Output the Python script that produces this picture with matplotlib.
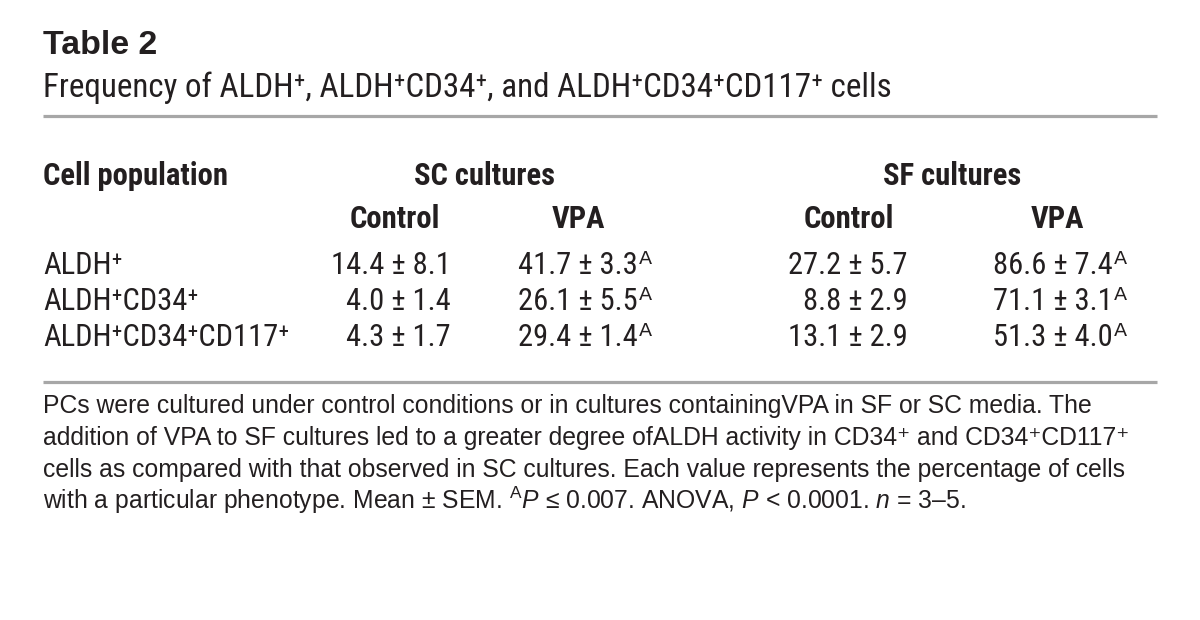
import matplotlib
matplotlib.use("Agg")
import matplotlib.pyplot as plt
from matplotlib import font_manager

# ---------------- data ----------------
table_number = "Table 2"
subtitle = "Frequency of ALDH⁺, ALDH⁺CD34⁺, and ALDH⁺CD34⁺CD117⁺ cells"
row_header = "Cell population"
culture_groups = ["SC cultures", "SF cultures"]
conditions = ["Control", "VPA", "Control", "VPA"]
cell_populations = ["ALDH⁺", "ALDH⁺CD34⁺", "ALDH⁺CD34⁺CD117⁺"]

sc_control_mean = [14.4, 4.0, 4.3]
sc_control_sem = [8.1, 1.4, 1.7]
sc_vpa_mean = [41.7, 26.1, 29.4]
sc_vpa_sem = [3.3, 5.5, 1.4]
sf_control_mean = [27.2, 8.8, 13.1]
sf_control_sem = [5.7, 2.9, 2.9]
sf_vpa_mean = [86.6, 71.1, 51.3]
sf_vpa_sem = [7.4, 3.1, 4.0]
column_marks = ["", "ᴬ", "", "ᴬ"]  # significance mark per column

footnote_lines = [
    "PCs were cultured under control conditions or in cultures containingVPA in SF or SC media. The",
    "addition of VPA to SF cultures led to a greater degree ofALDH activity in CD34⁺ and CD34⁺CD117⁺",
    "cells as compared with that observed in SC cultures. Each value represents the percentage of cells",
    r"with a particular phenotype. Mean ± SEM. $^{\mathrm{A}}\mathit{P}$ ≤ 0.007. ANOVA, $\mathit{P}$ < 0.0001. $\mathit{n}$ = 3–5.",
]

# ---------------- fonts ----------------
entries = font_manager.fontManager.ttflist
names = {f.name for f in entries}
REG = "Liberation Sans" if "Liberation Sans" in names else "DejaVu Sans"
COND = REG
STRETCH = "normal"
for cand in ["Roboto Condensed", "Liberation Sans Narrow", "Open Sans Condensed",
             "Noto Sans Condensed", "DejaVu Sans Condensed"]:
    if cand in names:
        COND = cand
        break
else:
    for f in entries:
        if f.name in ("DejaVu Sans", "Noto Sans", "Open Sans", "Roboto") and \
                str(f.stretch) in ("condensed", "semi-condensed"):
            COND = f.name
            STRETCH = "condensed"
            break

plt.rcParams["mathtext.fontset"] = "custom"
plt.rcParams["mathtext.rm"] = REG
plt.rcParams["mathtext.it"] = REG + ":italic"
plt.rcParams["mathtext.bf"] = REG + ":bold"
plt.rcParams["mathtext.default"] = "rm"

COND_FAM = [COND, "DejaVu Sans"]
REG_FAM = [REG, "DejaVu Sans"]

INK = "#231f20"
RULE = "#a7a7a7"

fig = plt.figure(figsize=(12, 6.2), dpi=100)
ax = fig.add_axes([0, 0, 1, 1])
ax.set_xlim(0, 1200)
ax.set_ylim(620, 0)
ax.axis("off")
renderer = fig.canvas.get_renderer()


def fit(text, family, target_px, weight="normal", stretch="normal", base=20.0):
    t = ax.text(0, 100, text, family=family, fontsize=base, weight=weight,
                fontstretch=stretch)
    w = t.get_window_extent(renderer).width
    t.remove()
    return base * target_px / w


LEFT, RIGHT = 43, 1157

fs_title = fit(table_number, REG_FAM, 114, weight="bold")
fs_sub = fit(subtitle, COND_FAM, 846, stretch=STRETCH)
fs_head = fit(row_header, COND_FAM, 185, weight="bold", stretch=STRETCH)
fs_body = fit("14.4 ± 8.1", COND_FAM, 120, stretch=STRETCH)
fs_foot = fit(footnote_lines[0], REG_FAM, 1048)

# title + subtitle
ax.text(LEFT, 54, table_number, family=REG_FAM, weight="bold", fontsize=fs_title,
        color=INK, va="baseline", ha="left")
ax.text(LEFT, 97, subtitle, family=COND_FAM, fontstretch=STRETCH, fontsize=fs_sub,
        color=INK, va="baseline", ha="left")

# rules
for yr in (115.5, 381.5):
    ax.plot([LEFT, RIGHT], [yr, yr], color=RULE, lw=2.3, solid_capstyle="butt")

# header
group_centers = [484, 952]
cond_centers = [395, 578, 849, 1057]
hkw = dict(family=COND_FAM, fontstretch=STRETCH, weight="bold", fontsize=fs_head,
           color=INK, va="baseline")
ax.text(LEFT, 185, row_header, ha="left", **hkw)
for g, xc in zip(culture_groups, group_centers):
    ax.text(xc, 185, g, ha="center", **hkw)
for c, xc in zip(conditions, cond_centers):
    ax.text(xc, 228, c, ha="center", **hkw)

# body
row_base = [274, 310, 346]
col_right = [451, 638, 908, 1113]
means = [sc_control_mean, sc_vpa_mean, sf_control_mean, sf_vpa_mean]
sems = [sc_control_sem, sc_vpa_sem, sf_control_sem, sf_vpa_sem]
bkw = dict(family=COND_FAM, fontstretch=STRETCH, fontsize=fs_body, color=INK,
           va="baseline")

for i, lab in enumerate(cell_populations):
    ax.text(LEFT, row_base[i], lab, ha="left", **bkw)
    for j in range(4):
        s = f"{means[j][i]:.1f} ± {sems[j][i]:.1f}"
        ax.text(col_right[j], row_base[i], s, ha="right", **bkw)
        if column_marks[j]:
            ax.text(col_right[j] + 0.5, row_base[i], column_marks[j], ha="left", **bkw)

# footnote
foot_base = [413, 445, 477, 509]
for yb, line in zip(foot_base, footnote_lines):
    ax.text(LEFT, yb, line, family=REG_FAM, fontsize=fs_foot, color=INK,
            va="baseline", ha="left")

fig.savefig("out.png", dpi=100, facecolor="white")
